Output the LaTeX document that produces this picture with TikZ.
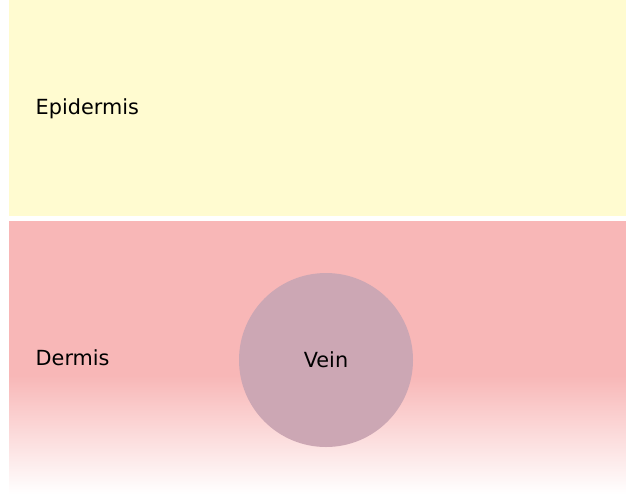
\documentclass[tikz,border=0pt]{standalone}
\usepackage{fontspec}
\setmainfont{DejaVu Sans}
\definecolor{epicol}{HTML}{FFFBD0}
\definecolor{dercol}{HTML}{F8B7B7}
\definecolor{veincol}{HTML}{CCA7B4}
\begin{document}
\begin{tikzpicture}[x=1pt,y=-1pt,
  lbl/.style={font=\fontsize{20.8}{24}\selectfont, text=black, inner sep=0pt}]
\useasboundingbox (0,0) rectangle (626,496);
\fill[white] (0,0) rectangle (626,496);
\fill[epicol] (9,0) rectangle (626,216);
\fill[dercol] (9,221) rectangle (626,376);
\shade[top color=dercol, bottom color=white] (9,375.5) rectangle (626,494);
\node[circle, fill=veincol, minimum size=174pt, inner sep=0pt] (vein) at (326,360) {};
\node[lbl] at (vein.center) {Vein};
\node[lbl, anchor=west] (epi) at (35.5,108.5) {Epidermis};
\node[lbl, anchor=west] (der) at (35.5,358) {Dermis};
\end{tikzpicture}
\end{document}
